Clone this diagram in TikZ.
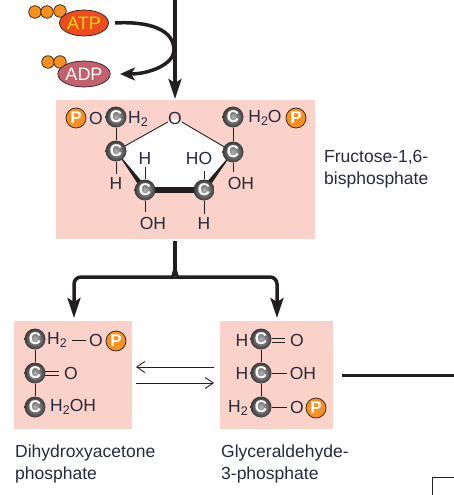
\documentclass[tikz,border=0pt]{standalone}
\usepackage{fontspec}
\setmainfont{Liberation Sans}
\usetikzlibrary{arrows.meta,calc,shapes.geometric}
\definecolor{pinkbox}{HTML}{FBD2CA}
\definecolor{ink}{HTML}{262A3C}
\definecolor{arrowk}{HTML}{231F20}
\definecolor{phos}{HTML}{F7901E}
\definecolor{atpfill}{HTML}{EE4B1E}
\definecolor{atptext}{HTML}{FFDE00}
\definecolor{adpfill}{HTML}{C45F6C}
\newcommand{\subtwo}{\raisebox{-3.5pt}{\fontsize{12.5}{12.5}\selectfont 2}}
\tikzset{
  x=1pt,y=-1pt,
  panel/.style={fill=pinkbox,draw=none,inner sep=0pt,anchor=north west},
  atom/.style={text=ink,inner sep=0pt,font=\fontsize{17.5}{20}\selectfont},
  captext/.style={text=ink,inner sep=0pt,anchor=north west,align=left,font=\fontsize{17.5}{22}\selectfont},
  carbon/.style={circle,minimum size=21pt,inner sep=0pt,shading=radial,inner color=black!30,outer color=black!78,text=white,font=\fontsize{17}{17}\selectfont\bfseries},
  pball/.style={circle,minimum size=20pt,inner sep=0pt,fill=phos,draw=arrowk,line width=.7pt,text=white,font=\fontsize{17}{17}\selectfont\bfseries},
  pdot/.style={circle,minimum size=12.5pt,inner sep=0pt,fill=phos,draw=arrowk,line width=.7pt},
  nucleotide/.style={ellipse,minimum width=49pt,minimum height=26pt,inner sep=0pt,draw=arrowk,line width=.7pt,font=\fontsize{18}{20}\selectfont},
  bond/.style={draw=arrowk,line width=.9pt},
  tobond/.style={bond,shorten >=3pt},
  heavy/.style={draw=arrowk,line width=3.5pt},
  bigarrow/.style={draw=arrowk,line width=3.5pt,-{Stealth[length=20pt,width=13pt,inset=4pt]}},
  eqarrow/.style={draw=arrowk,line width=.9pt,-{Straight Barb[length=8pt,width=11pt]}},
}
\begin{document}
\begin{tikzpicture}
\useasboundingbox (0,0) rectangle (454,495);
% panels
\node[panel,minimum width=259pt,minimum height=139pt] (fbox) at (56,100) {};
\node[panel,minimum width=118pt,minimum height=108pt] (dbox) at (14,321) {};
\node[panel,minimum width=113pt,minimum height=108pt] (gbox) at (220,321) {};
% free ends
\coordinate (top) at (175,0);
\coordinate (split) at (175,241);
\coordinate (join) at (175,266);
\coordinate (ltip) at (74,318);
\coordinate (rtip) at (277,318);
\coordinate (mid1) at (174,50);
\coordinate (atpout) at (115,23);
\coordinate (adpin) at (120,74);
\coordinate (eqa) at (214,367);
\coordinate (eqb) at (136,367);
\coordinate (eqc) at (136,383);
\coordinate (eqd) at (214,383);
\coordinate (next) at (342,375);
\coordinate (nextend) at (454,375);
\coordinate (c1) at (432,495);
\coordinate (c2) at (432,477);
\coordinate (c3) at (454,477);
% upper arrows
\draw[bigarrow] (top) -- (175,99);
\draw[heavy] (atpout) .. controls (150,21) and (174,30) .. (mid1);
\draw[draw=arrowk,line width=3.5pt,-{Stealth[length=15pt,width=13pt,inset=4pt]}] (mid1) .. controls (174,64) and (150,74) .. (adpin);
% ATP / ADP
\node[pdot] (a1) at (35,12) {};
\node[pdot] (a2) at (47,12) {};
\node[pdot] (a3) at (60,11) {};
\node[nucleotide,fill=atpfill,text=atptext] (atp) at (84,23) {ATP};
\node[pdot] (b1) at (48,62) {};
\node[pdot] (b2) at (60,62) {};
\node[nucleotide,fill=adpfill,text=white] (adp) at (84,74) {ADP};
% fructose ring
\coordinate (r1) at (116,151);
\coordinate (r2) at (145,190);
\coordinate (r3) at (204,190);
\coordinate (r4) at (233,152);
\coordinate (r0) at (175,118);
\fill[white] (r0) -- (r1) -- (r2) -- (r3) -- (r4) -- cycle;
\node[atom] (ringO) at (175,118) {O};
\draw[bond] (ringO) -- (r1);
\draw[bond] (ringO) -- (r4);
\fill[arrowk] ($(r1)+(0,0)$) -- ($(r2)+(-2.5,1)$) -- ($(r2)+(2,-2.5)$) -- cycle;
\fill[arrowk] ($(r4)+(0,0)$) -- ($(r3)+(2.5,1)$) -- ($(r3)+(-2,-2.5)$) -- cycle;
\draw[draw=arrowk,line width=5.5pt] (r2) -- (r3);
\node[atom] (h1) at (145,158) {H};
\node[atom] (h2) at (116,183) {H};
\node[atom] (ho) at (199,158) {HO};
\node[atom] (oh1) at (241,183) {OH};
\node[atom] (oh2) at (153,223) {OH};
\node[atom] (h3) at (204,223) {H};
\node[carbon] (ct1) at (116,117) {C};
\node[carbon] (cr1) at (116,151) {C};
\node[carbon] (cr2) at (145,190) {C};
\node[carbon] (cr3) at (204,190) {C};
\node[carbon] (cr4) at (233,152) {C};
\node[carbon] (ct2) at (233,117) {C};
\draw[bond] (ct1) -- (cr1);
\draw[bond] (ct2) -- (cr4);
\draw[tobond] (cr1) -- (h2);
\draw[tobond] (cr2) -- (h1);
\draw[bond] (cr2) -- (145,212);
\draw[bond] (cr3) -- (204,171);
\draw[tobond] (cr3) -- (h3);
\draw[bond] (cr4) -- (233,172);
\node[pball] (p1) at (76,118) {P};
\node[atom] (o1) at (96,118) {O};
\node[atom] (h2a) at (138,119) {H\subtwo};
\node[atom] (h2b) at (265,118) {H\subtwo O};
\node[pball] (p2) at (296,118) {P};
\node[captext] (fname) at (324,150) {Fructose-1,6-\\bisphosphate};
% split arrows
\draw[heavy] (split) -- (join);
\draw[bigarrow,rounded corners=7pt] (join) .. controls (175,274) and (172,277) .. (166,277) -- (74,277) -- (ltip);
\draw[bigarrow,rounded corners=7pt] (join) .. controls (175,274) and (178,277) .. (184,277) -- (277,277) -- (rtip);
% DHAP
\node[carbon] (d1) at (35,339) {C};
\node[carbon] (d2) at (35,373) {C};
\node[carbon] (d3) at (35,407) {C};
\draw[bond] (d1) -- (d2);
\draw[bond] (d2) -- (d3);
\node[atom,anchor=west] (d1h) at (47,340) {H\subtwo};
\node[atom] (d1o) at (96,340) {O};
\draw[tobond] (72,340) -- (d1o);
\node[pball] (d1p) at (116,341) {P};
\node[atom] (d2o) at (71,373) {O};
\draw[bond] (45,371) -- (59,371);
\draw[bond] (45,375) -- (59,375);
\node[atom,anchor=west] (d3h) at (50,407) {H\subtwo OH};
\node[captext] (dname) at (15,445) {Dihydroxyacetone\\phosphate};
% equilibrium arrows
\draw[eqarrow] (eqa) -- (eqb);
\draw[eqarrow] (eqc) -- (eqd);
% G3P
\node[carbon] (g1) at (261,339) {C};
\node[carbon] (g2) at (261,373) {C};
\node[carbon] (g3) at (261,407) {C};
\draw[bond] (g1) -- (g2);
\draw[bond] (g2) -- (g3);
\node[atom] (g1h) at (242,340) {H};
\node[atom] (g1o) at (297,340) {O};
\draw[bond] (272,338) -- (285,338);
\draw[bond] (272,342) -- (285,342);
\node[atom] (g2h) at (242,373) {H};
\node[atom] (g2o) at (303,373) {OH};
\draw[tobond] (g2) -- (g2o);
\node[atom] (g3h) at (238,408) {H\subtwo};
\node[atom] (g3o) at (297,407) {O};
\draw[tobond] (g3) -- (g3o);
\node[pball] (g3p) at (316,408) {P};
\node[captext] (gname) at (221,445) {Glyceraldehyde-\\3-phosphate};
% onward line, corner mark
\draw[draw=arrowk,line width=3pt] (next) -- (nextend);
\draw[draw=arrowk,line width=.7pt] (c1) -- (c2) -- (c3);
\end{tikzpicture}
\end{document}
